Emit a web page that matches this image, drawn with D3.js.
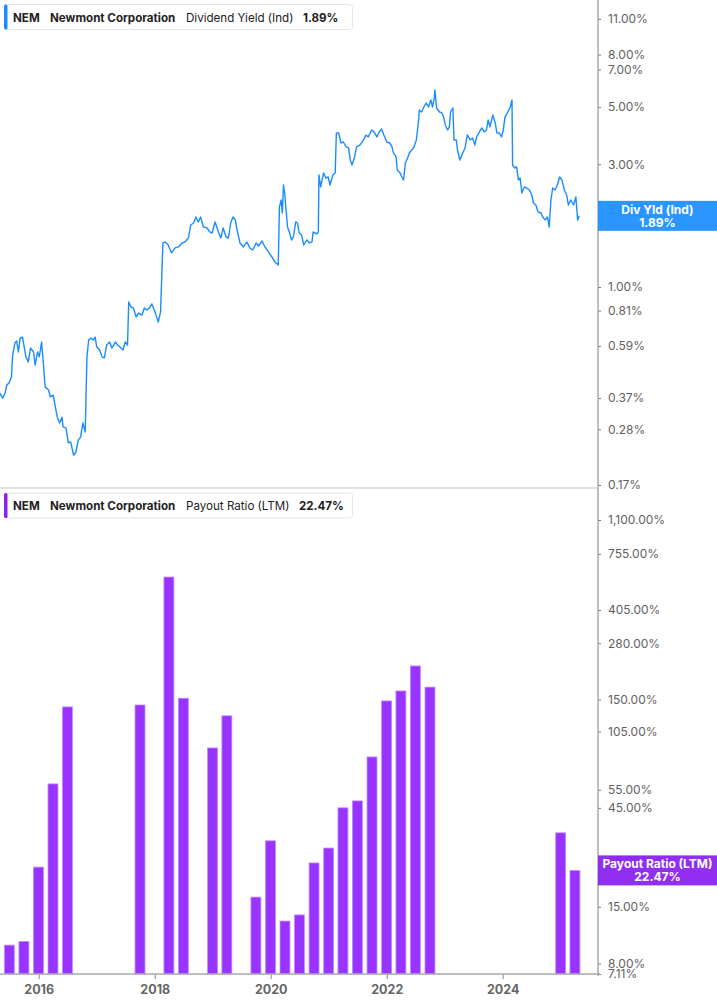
<!DOCTYPE html>
<html>
<head>
<meta charset="utf-8">
<script src="https://cdn.jsdelivr.net/npm/d3@7"></script>
<style>
  html, body { margin: 0; padding: 0; background: #fff; }
  svg { display: block; font-family: Inter, "Noto Sans", sans-serif; }
</style>
</head>
<body>
<div id="chart"></div>
<script>
// dividend yield (indicated), [decimal year, %]
const divYield = [
  [2015.33,0.387],[2015.38,0.370],[2015.42,0.387],[2015.45,0.416],[2015.49,0.424],[2015.53,0.447],
  [2015.55,0.544],[2015.59,0.606],[2015.62,0.617],[2015.65,0.559],[2015.68,0.634],[2015.72,0.639],
  [2015.75,0.584],[2015.78,0.535],[2015.82,0.511],[2015.86,0.579],[2015.91,0.559],[2015.94,0.497],
  [2015.98,0.559],[2016.01,0.535],[2016.05,0.611],[2016.08,0.507],[2016.11,0.409],[2016.17,0.398],
  [2016.20,0.374],[2016.25,0.380],[2016.28,0.348],[2016.32,0.312],[2016.36,0.296],[2016.40,0.312],
  [2016.42,0.286],[2016.47,0.283],[2016.51,0.248],[2016.55,0.250],[2016.60,0.222],[2016.64,0.228],
  [2016.68,0.254],[2016.72,0.261],[2016.76,0.296],[2016.80,0.273],[2016.83,0.535],[2016.86,0.622],
  [2016.90,0.634],[2016.94,0.622],[2016.97,0.639],[2017.00,0.584],[2017.05,0.569],[2017.09,0.535],
  [2017.13,0.530],[2017.17,0.595],[2017.22,0.611],[2017.26,0.579],[2017.32,0.611],[2017.36,0.595],
  [2017.40,0.584],[2017.45,0.569],[2017.49,0.611],[2017.53,0.595],[2017.55,0.874],[2017.59,0.836],
  [2017.63,0.829],[2017.68,0.765],[2017.72,0.792],[2017.78,0.778],[2017.82,0.829],[2017.86,0.814],
  [2017.91,0.829],[2017.95,0.859],[2018.01,0.792],[2018.06,0.731],[2018.10,0.800],[2018.14,1.483],
  [2018.18,1.496],[2018.23,1.456],[2018.29,1.356],[2018.35,1.418],[2018.41,1.431],[2018.47,1.483],
  [2018.52,1.496],[2018.58,1.550],[2018.62,1.742],[2018.67,1.773],[2018.71,1.871],[2018.75,1.789],
  [2018.79,1.871],[2018.84,1.711],[2018.90,1.696],[2018.95,1.636],[2018.99,1.621],[2019.04,1.789],
  [2019.10,1.636],[2019.14,1.550],[2019.18,1.696],[2019.23,1.564],[2019.27,1.550],[2019.31,1.773],
  [2019.35,1.871],[2019.39,1.822],[2019.42,1.665],[2019.47,1.483],[2019.53,1.431],[2019.59,1.496],
  [2019.64,1.418],[2019.69,1.393],[2019.75,1.483],[2019.79,1.443],[2019.85,1.509],[2019.90,1.431],
  [2019.96,1.368],[2020.02,1.308],[2020.07,1.251],[2020.13,1.218],[2020.15,2.046],[2020.18,2.178],
  [2020.20,1.939],[2020.22,2.491],[2020.24,2.319],[2020.26,2.046],[2020.29,1.711],[2020.32,1.636],
  [2020.36,1.523],[2020.39,1.564],[2020.43,1.789],[2020.46,1.773],[2020.49,1.621],[2020.53,1.593],
  [2020.57,1.456],[2020.62,1.523],[2020.67,1.483],[2020.71,1.496],[2020.73,1.636],[2020.79,1.607],
  [2020.82,1.636],[2020.83,2.725],[2020.86,2.447],[2020.91,2.774],[2020.95,2.652],[2020.99,2.676],
  [2021.02,2.491],[2021.07,2.725],[2021.11,2.774],[2021.13,3.967],[2021.17,3.967],[2021.21,3.628],
  [2021.25,3.660],[2021.30,3.501],[2021.34,3.470],[2021.37,3.116],[2021.40,2.980],[2021.44,3.172],
  [2021.48,3.501],[2021.54,3.564],[2021.60,3.727],[2021.64,3.897],[2021.68,3.828],[2021.74,4.076],
  [2021.78,4.004],[2021.83,3.828],[2021.87,4.004],[2021.91,4.113],[2021.95,3.897],[2022.00,3.660],
  [2022.05,3.628],[2022.09,3.501],[2022.11,3.347],[2022.16,3.201],[2022.18,2.849],[2022.23,2.774],
  [2022.26,2.676],[2022.29,2.606],[2022.32,3.033],[2022.36,3.172],[2022.39,3.317],[2022.43,3.407],
  [2022.47,3.501],[2022.51,3.727],[2022.55,4.457],[2022.56,4.874],[2022.60,4.787],[2022.64,5.006],
  [2022.68,5.189],[2022.72,5.006],[2022.76,5.331],[2022.79,5.006],[2022.82,5.427],[2022.83,5.832],
  [2022.86,4.962],[2022.91,4.787],[2022.95,4.746],[2022.98,4.579],[2023.01,4.262],[2023.05,4.076],
  [2023.08,4.187],[2023.10,4.787],[2023.14,4.962],[2023.16,3.727],[2023.20,3.727],[2023.22,3.407],
  [2023.26,3.116],[2023.31,3.317],[2023.35,3.470],[2023.39,3.897],[2023.44,3.727],[2023.48,3.794],
  [2023.52,3.564],[2023.55,3.828],[2023.60,4.004],[2023.64,4.150],[2023.68,4.004],[2023.72,4.076],
  [2023.75,4.457],[2023.78,4.187],[2023.83,4.661],[2023.87,4.340],[2023.90,3.967],[2023.94,3.967],
  [2023.98,3.828],[2024.01,4.076],[2024.04,4.579],[2024.08,4.746],[2024.13,5.006],[2024.16,5.331],
  [2024.17,2.980],[2024.21,2.901],[2024.24,2.927],[2024.27,2.606],[2024.30,2.652],[2024.33,2.319],
  [2024.37,2.447],[2024.41,2.425],[2024.46,2.382],[2024.50,2.278],[2024.53,2.121],[2024.57,2.083],
  [2024.61,1.956],[2024.66,1.939],[2024.69,1.871],[2024.73,1.822],[2024.77,1.871],[2024.80,1.711],
  [2024.83,2.178],[2024.86,2.425],[2024.90,2.382],[2024.94,2.491],[2024.98,2.676],[2025.02,2.606],
  [2025.06,2.382],[2025.10,2.278],[2025.13,2.083],[2025.17,2.178],[2025.22,2.083],[2025.26,2.238],
  [2025.29,1.822],[2025.32,1.89]
];

// payout ratio (LTM), quarter ends
const payoutQuarters = ["2015-06-30","2015-09-30","2015-12-31","2016-03-31","2016-06-30",
  "2017-09-30","2018-03-31","2018-06-30","2018-12-31","2019-03-31","2019-09-30","2019-12-31",
  "2020-03-31","2020-06-30","2020-09-30","2020-12-31","2021-03-31","2021-06-30","2021-09-30",
  "2021-12-31","2022-03-31","2022-06-30","2022-09-30","2024-12-31","2025-03-31"];
const payoutPct = [9.8, 10.2, 23.3, 58.7, 138, 141, 584, 152, 87.5, 125, 16.7, 31.2,
  12.8, 13.7, 24.4, 28.8, 45.0, 48.6, 79.2, 147.5, 164.8, 217.5, 172, 34.1, 22.47];

const yieldTicks = [11, 8, 7, 5, 3, 2, 1, 0.81, 0.59, 0.37, 0.28, 0.17];
const payoutTicks = [1100, 755, 405, 280, 150, 105, 55, 45, 25, 15, 8, 7.11];

const lastYield = 1.89;
const lastPayout = 22.47;

const width = 717, height = 1005;
const plotRight = 598;
const blue = "#1a8cff", purple = "#9933ff";

const toDate = t => {
    const yr = Math.floor(t);
    const a = Date.UTC(yr, 0, 1), b = Date.UTC(yr + 1, 0, 1);
    return new Date(a + (t - yr) * (b - a));
};
const pct = d => d3.format(",.2f")(d) + "%";

const x = d3.scaleUtc()
    .domain([new Date(Date.UTC(2016, 0, 1)), new Date(Date.UTC(2024, 0, 1))])
    .range([38.7, 502.7]);
const yTop = d3.scaleLog().domain([0.1655, 13.04]).range([488, 0]);
const yBot = d3.scaleLog().domain([7.11, 1535]).range([974, 490]);

const svg = d3.select("#chart").append("svg")
    .attr("width", width)
    .attr("height", height);

// panel separator
svg.append("line")
    .attr("x1", 0).attr("x2", plotRight)
    .attr("y1", 488).attr("y2", 488)
    .attr("stroke", "#e2e2e2")
    .attr("stroke-width", 2);

// dividend yield line
svg.append("path")
    .datum(divYield)
    .attr("fill", "none")
    .attr("stroke", blue)
    .attr("stroke-width", 1.4)
    .attr("stroke-linejoin", "round")
    .attr("d", d3.line()
        .x(d => x(toDate(d[0])))
        .y(d => yTop(d[1])));

// payout bars
const parseQ = d3.utcParse("%Y-%m-%d");
const bars = payoutQuarters.map((q, i) => ({date: parseQ(q), value: payoutPct[i]}));
const qStep = x(parseQ("2016-03-31")) - x(parseQ("2015-12-31"));
const barW = qStep * 0.69;

svg.append("g")
    .selectAll("rect")
    .data(bars)
    .join("rect")
    .attr("x", d => x(d.date) - barW / 2)
    .attr("y", d => yBot(d.value))
    .attr("width", barW)
    .attr("height", d => yBot(7.11) - yBot(d.value))
    .attr("fill", purple)
    .attr("stroke", "#c08cff")
    .attr("stroke-width", 0.8);

// right axes
const styleAxis = g => {
    g.select(".domain").remove();
    g.selectAll(".tick line").attr("stroke", "#777");
    g.selectAll(".tick text")
        .attr("fill", "#5f5f5f")
        .attr("font-size", "12px")
        .attr("font-family", "Inter, sans-serif");
};

svg.append("g")
    .attr("transform", `translate(${plotRight},0)`)
    .call(d3.axisRight(yTop).tickValues(yieldTicks).tickFormat(pct).tickSize(3).tickPadding(7))
    .call(styleAxis);

svg.append("g")
    .attr("transform", `translate(${plotRight},0)`)
    .call(d3.axisRight(yBot).tickValues(payoutTicks).tickFormat(pct).tickSize(3).tickPadding(7))
    .call(styleAxis);

svg.append("line")
    .attr("x1", plotRight).attr("x2", plotRight)
    .attr("y1", 0).attr("y2", 976)
    .attr("stroke", "#a8a8a8")
    .attr("stroke-width", 1.5);

// bottom time axis
const xAxis = svg.append("g")
    .attr("transform", "translate(0,974)")
    .call(d3.axisBottom(x).ticks(d3.utcYear.every(2)).tickFormat(d3.utcFormat("%Y")).tickSize(5).tickPadding(6));
xAxis.select(".domain").remove();
xAxis.selectAll(".tick line").attr("stroke", "#888");
xAxis.selectAll(".tick text")
    .attr("fill", "#666")
    .attr("font-size", "12.5px")
    .attr("font-weight", 700)
    .attr("font-family", "Inter, sans-serif");

svg.append("line")
    .attr("x1", 0).attr("x2", plotRight + 2)
    .attr("y1", 974).attr("y2", 974)
    .attr("stroke", "#a8a8a8")
    .attr("stroke-width", 1.5);

// current value flags on the axis
const flag = (yPos, color, title, value) => {
    const g = svg.append("g").attr("transform", `translate(${plotRight},${yPos})`);
    g.append("rect")
        .attr("x", 0).attr("y", -15)
        .attr("width", width - plotRight).attr("height", 30)
        .attr("fill", color)
        .attr("fill-opacity", 0.94);
    g.append("text")
        .attr("x", (width - plotRight) / 2).attr("y", -2)
        .attr("text-anchor", "middle")
        .attr("fill", "#fff")
        .attr("font-size", "12px")
        .attr("font-weight", 700)
        .text(title);
    g.append("text")
        .attr("x", (width - plotRight) / 2).attr("y", 11)
        .attr("text-anchor", "middle")
        .attr("fill", "#fff")
        .attr("font-size", "12px")
        .attr("font-weight", 700)
        .text(value);
};
flag(yTop(lastYield), "#1e8fff", "Div Yld (Ind)", pct(lastYield));
flag(yBot(lastPayout), "#8a22f0", "Payout Ratio (LTM)", pct(lastPayout));

// legends
const legend = (top, color, metric, value, valueX) => {
    const g = svg.append("g").attr("transform", `translate(4,${top})`);
    g.append("rect")
        .attr("x", 0.5).attr("y", 0.5)
        .attr("width", 348).attr("height", 25)
        .attr("rx", 3)
        .attr("fill", "#fff")
        .attr("stroke", "#e6e6e6");
    g.append("rect")
        .attr("x", 0).attr("y", 0.5)
        .attr("width", 3.5).attr("height", 25)
        .attr("rx", 1.5)
        .attr("fill", color);
    const t = (xPos, str, weight) => g.append("text")
        .attr("x", xPos).attr("y", 17.5)
        .attr("fill", "#222")
        .attr("font-size", "11.6px")
        .attr("font-weight", weight)
        .text(str);
    t(9, "NEM", 700);
    t(46, "Newmont Corporation", 700);
    t(182, metric, 400);
    t(valueX, value, 700);
};
legend(4, blue, "Dividend Yield (Ind)", pct(lastYield), 299);
legend(492.5, "#8a22f0", "Payout Ratio (LTM)", pct(lastPayout), 295);
</script>
</body>
</html>
